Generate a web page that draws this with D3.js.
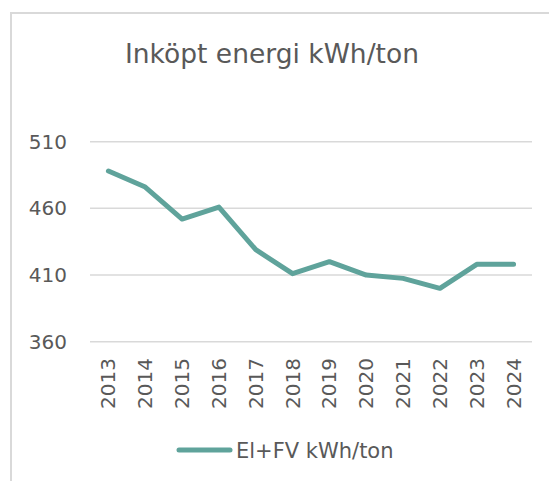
<!DOCTYPE html>
<html lang="sv">
<head>
<meta charset="UTF-8"/>
<title>Inköpt energi kWh/ton</title>
<script src="https://d3js.org/d3.v7.min.js"></script>
<style>
  body { margin: 0; background: #fff; }
  svg text { font-family: "DejaVu Sans", sans-serif; fill: #595959; }
</style>
</head>
<body>
<script>
    // data
    var years = ["2013", "2014", "2015", "2016", "2017", "2018", "2019", "2020", "2021", "2022", "2023", "2024"];
    var values = [488, 476, 452, 461, 429, 411, 420, 410, 407.5, 400, 418, 418];
    var yTicks = [360, 410, 460, 510];
    var seriesName = "El+FV kWh/ton";
    var title = "Inköpt energi kWh/ton";

    var w = 549;
    var h = 481;
    var plotLeft = 90, plotRight = 532, plotTop = 141.7, plotBottom = 341.7;

    var svg = d3.select("body")
        .append("svg")
        .attr("width", w)
        .attr("height", h);

    // chart frame (only top and left edges are visible)
    svg.append("path")
        .attr("d", "M11,490 V13 H560")
        .attr("fill", "none")
        .attr("stroke", "#d9d9d9")
        .attr("stroke-width", 2);

    var xScale = d3.scaleBand()
        .domain(years)
        .range([plotLeft, plotRight]);

    var yScale = d3.scaleLinear()
        .domain([360, 510])
        .range([plotBottom, plotTop]);

    // gridlines
    svg.selectAll("line.grid")
        .data(yTicks)
        .enter()
        .append("line")
        .attr("class", "grid")
        .attr("x1", plotLeft)
        .attr("x2", plotRight)
        .attr("y1", function (d) { return yScale(d); })
        .attr("y2", function (d) { return yScale(d); })
        .attr("stroke", "#d9d9d9")
        .attr("stroke-width", 1.5);

    // y labels
    svg.selectAll("text.ylab")
        .data(yTicks)
        .enter()
        .append("text")
        .attr("class", "ylab")
        .attr("x", 67)
        .attr("y", function (d) { return yScale(d); })
        .attr("dy", "0.35em")
        .attr("text-anchor", "end")
        .attr("font-size", "20px")
        .text(function (d) { return d; });

    // x labels, rotated
    svg.selectAll("text.xlab")
        .data(years)
        .enter()
        .append("text")
        .attr("class", "xlab")
        .attr("transform", function (d) {
            return "translate(" + (xScale(d) + xScale.bandwidth() / 2) + ",358) rotate(-90)";
        })
        .attr("dy", "0.35em")
        .attr("text-anchor", "end")
        .attr("font-size", "20px")
        .text(function (d) { return d; });

    // the line
    var line = d3.line()
        .x(function (d, i) { return xScale(years[i]) + xScale.bandwidth() / 2; })
        .y(function (d) { return yScale(d); });

    svg.append("path")
        .datum(values)
        .attr("d", line)
        .attr("fill", "none")
        .attr("stroke", "#5fa39b")
        .attr("stroke-width", 5)
        .attr("stroke-linecap", "round")
        .attr("stroke-linejoin", "round");

    // title
    svg.append("text")
        .attr("x", 272)
        .attr("y", 63)
        .attr("text-anchor", "middle")
        .attr("font-size", "26.5px")
        .text(title);

    // legend
    svg.append("line")
        .attr("x1", 179)
        .attr("x2", 230)
        .attr("y1", 450)
        .attr("y2", 450)
        .attr("stroke", "#5fa39b")
        .attr("stroke-width", 5)
        .attr("stroke-linecap", "round");

    svg.append("text")
        .attr("x", 236)
        .attr("y", 458)
        .attr("font-size", "21px")
        .text(seriesName);
</script>
</body>
</html>
